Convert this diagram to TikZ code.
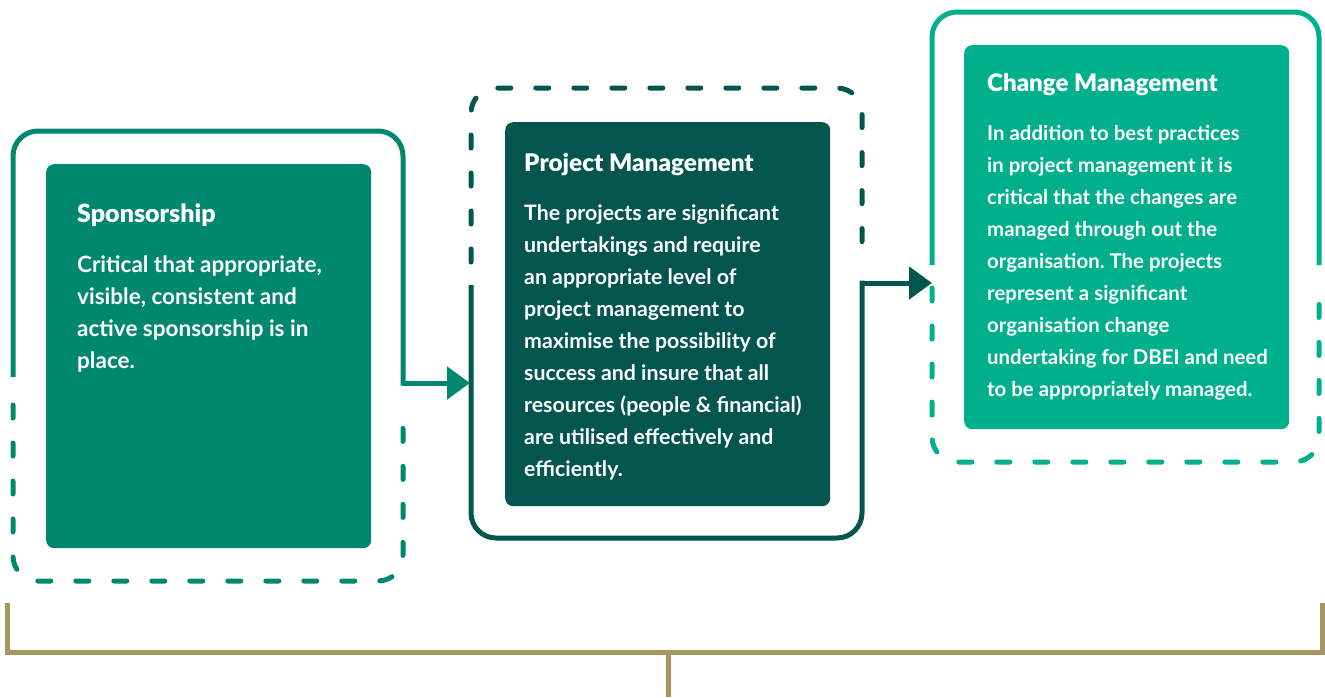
\documentclass[tikz,border=0pt]{standalone}
\usepackage{fontspec}
\setmainfont{Lato}
\newfontfamily\headfont{Lato Black}
\usetikzlibrary{arrows.meta}
\frenchspacing

\definecolor{sponsorgreen}{HTML}{00876F}
\definecolor{projectgreen}{HTML}{02564E}
\definecolor{changegreen}{HTML}{00AF8C}
\definecolor{brackettan}{HTML}{A8965F}

\begin{document}
\begin{tikzpicture}[x=1pt,y=-1pt,
    frame/.style={line width=5pt, rounded corners=25pt},
    dashframe/.style={frame, dash pattern=on 13pt off 25pt, line cap=round},
    card/.style={anchor=north west, inner sep=0pt, rounded corners=8pt,
      minimum width=325pt, minimum height=384pt},
    title/.style={anchor=base west, inner sep=0pt, text=white,
      font=\headfont\fontsize{#1}{28}\selectfont},
    % multi-line text sits on the baseline of its last line
    body/.style={anchor=base west, inner sep=0pt, text=white, align=left,
      font=\bfseries\fontsize{#1}{32}\selectfont},
    flow/.style={line width=5pt, -{Triangle[length=23pt,width=32pt]}}]
  \useasboundingbox (0,0) rectangle (1325,697);

  % the three cards
  \node[card, fill=sponsorgreen] (spon) at (46,164) {};
  \node[card, fill=projectgreen] (pm) at (505,122) {};
  \node[card, fill=changegreen] (cm) at (964,45) {};

  \node[title=25] (spon-title) at (77,222) {Sponsorship};
  \node[body=22.5] (spon-text) at (77,368) {Critical that appropriate,\\
    visible, consistent and\\ active sponsorship is in\\ place.};

  \node[title=24.3] (pm-title) at (524,171) {Project Management};
  \node[body=21.3] (pm-text) at (524,476) {The projects are significant\\
    undertakings and require\\ an appropriate level of\\
    project management to\\ maximise the possibility of\\
    success and insure that all\\ resources (people \& financial)\\
    are utilised effectively and\\ efficiently.};

  \node[title=24.1] (cm-title) at (987,91) {Change Management};
  \node[body=20.4] (cm-text) at (987,396) {In addition to best practices\\
    in project management it is\\ critical that the changes are\\
    managed through out the\\ organisation. The projects\\
    represent a significant\\ organisation change\\
    undertaking for DBEI and need\\ to be appropriately managed.};

  % hand-over points between the frames
  \coordinate (spon-out) at (403,383);
  \coordinate (pm-in) at (470,383);
  \coordinate (pm-out) at (862,283);
  \coordinate (cm-in) at (932,283);

  % frames round the cards, solid half and dashed half
  \draw[frame, sponsorgreen] (13,377) -- (13,131) -- (403,131) -- ([yshift=-2.5pt]spon-out);
  \draw[dashframe, sponsorgreen] (13,405) -- (13,581) -- (403,581) -- (403,405);

  \draw[dashframe, projectgreen] (471,262) -- (471,88) -- (862,88) -- (862,262);
  \draw[frame, projectgreen] (471,285) -- (471,538) -- (862,538) -- ([yshift=2.5pt]pm-out);

  \draw[frame, changegreen] (932,265) -- (932,12) -- (1319,12) -- (1319,265);
  \draw[dashframe, changegreen] (932,288) -- (932,462) -- (1319,462) -- (1319,288);

  % arrows from one frame to the next
  \draw[flow, sponsorgreen] (spon-out) -- (pm-in);
  \draw[flow, projectgreen] (pm-out) -- (cm-in);

  % bracket underneath
  \draw[line width=5pt, brackettan] (7,603) -- (7,652) -- (1322,652) -- (1322,603);
  \draw[line width=5pt, brackettan] (668,652) -- (668,697);
\end{tikzpicture}
\end{document}
